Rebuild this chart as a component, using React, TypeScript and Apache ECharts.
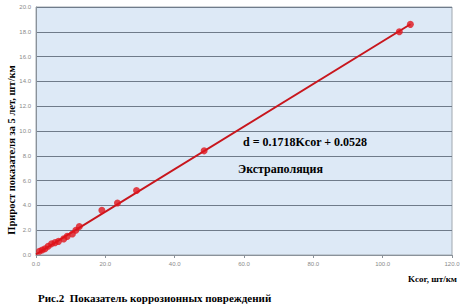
import React, { useEffect, useRef } from "react";
import * as echarts from "echarts";

const kcor: number[] = [1.0, 1.8, 2.6, 3.5, 4.5, 5.5, 6.5, 8.0, 9.0, 10.5, 11.5, 12.5, 19.0, 23.5, 29.0, 48.5, 104.8, 108.0];
const growth: number[] = [0.3, 0.4, 0.5, 0.7, 0.9, 1.0, 1.1, 1.3, 1.5, 1.7, 2.0, 2.3, 3.6, 4.2, 5.2, 8.4, 18.0, 18.6];
const slope = 0.1718;
const intercept = 0.0528;
const trendX: number[] = [0, 108];
const yTicks = { min: 0, max: 20, interval: 2 };
const xTicks = { min: 0, max: 120, interval: 20 };

export default function App() {
  const ref = useRef<HTMLDivElement>(null);
  useEffect(() => {
    if (!ref.current) return;
    document.body.style.margin = "0";
    const chart = echarts.init(ref.current, undefined, { renderer: "svg" });
    const serif = "'Liberation Serif', 'DejaVu Serif', serif";
    chart.setOption({
      animation: false,
      backgroundColor: "#ffffff",
      grid: {
        left: 36,
        right: 11,
        top: 7,
        bottom: 52,
        show: true,
        backgroundColor: "#dde9f6",
        borderColor: "#a0a8b0",
        borderWidth: 1,
      },
      xAxis: {
        type: "value",
        min: xTicks.min,
        max: xTicks.max,
        interval: xTicks.interval,
        axisLine: { show: true, onZero: false, lineStyle: { color: "#8a929a" } },
        axisTick: { show: true, length: 3, lineStyle: { color: "#8a929a" } },
        splitLine: { show: false },
        axisLabel: {
          fontSize: 6,
          color: "#8a8a8a",
          margin: 6,
          formatter: (v: number) => v.toFixed(1),
        },
      },
      yAxis: {
        type: "value",
        min: yTicks.min,
        max: yTicks.max,
        interval: yTicks.interval,
        axisLine: { show: true, lineStyle: { color: "#8a929a" } },
        axisTick: { show: false },
        splitLine: { show: true, lineStyle: { color: "#6f7b8a", width: 1 } },
        axisLabel: {
          fontSize: 6,
          color: "#8a8a8a",
          margin: 5,
          formatter: (v: number) => v.toFixed(1),
        },
      },
      series: [
        {
          type: "line",
          data: trendX.map((x) => [x, slope * x + intercept]),
          showSymbol: false,
          symbol: "none",
          lineStyle: { color: "#c8161d", width: 2 },
          silent: true,
          z: 2,
        },
        {
          type: "scatter",
          data: kcor.map((x, i) => [x, growth[i]]),
          symbol: "circle",
          symbolSize: 7,
          itemStyle: { color: "#e0141c" },
          z: 3,
        },
      ],
      graphic: [
        {
          type: "text",
          left: 243,
          top: 136,
          style: {
            text: "d = 0.1718Kcor + 0.0528",
            font: `bold 12px ${serif}`,
            fill: "#000000",
          },
        },
        {
          type: "text",
          left: 238,
          top: 163,
          style: {
            text: "Экстраполяция",
            font: `bold 12px ${serif}`,
            fill: "#000000",
          },
        },
        {
          type: "text",
          x: 11,
          y: 150,
          rotation: Math.PI / 2,
          style: {
            text: "Прирост показателя за 5 лет, шт/км",
            font: `bold 10.5px ${serif}`,
            fill: "#000000",
            align: "center",
            verticalAlign: "middle",
          },
        },
        {
          type: "text",
          right: 6,
          top: 274,
          style: {
            text: "Kcor, шт/км",
            font: `bold 9px ${serif}`,
            fill: "#000000",
          },
        },
        {
          type: "text",
          left: 38,
          top: 292,
          style: {
            text: "Рис.2  Показатель коррозионных повреждений",
            font: `bold 11px ${serif}`,
            fill: "#000000",
          },
        },
      ],
    });
    return () => chart.dispose();
  }, []);
  return <div ref={ref} style={{ width: 463, height: 307 }} />;
}
